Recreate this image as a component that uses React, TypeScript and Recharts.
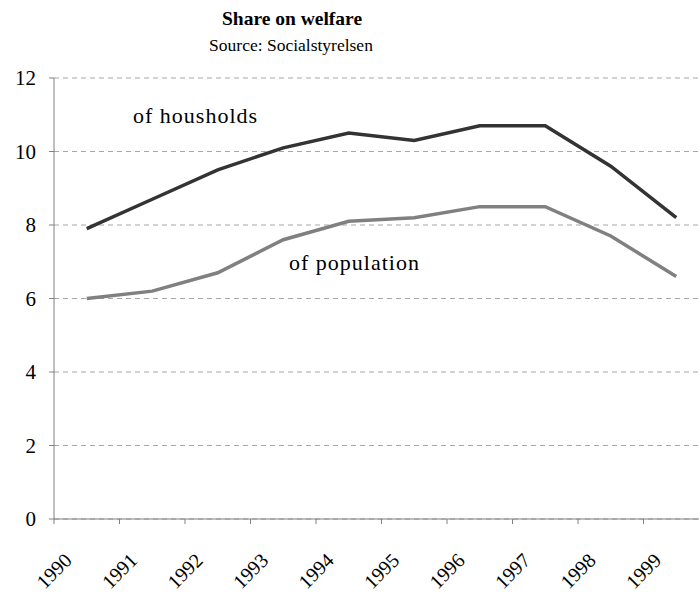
import React from "react";
import { LineChart, Line, XAxis, YAxis, CartesianGrid } from "recharts";

const years = ["1990", "1991", "1992", "1993", "1994", "1995", "1996", "1997", "1998", "1999"];
const households = [7.9, 8.7, 9.5, 10.1, 10.5, 10.3, 10.7, 10.7, 9.6, 8.2];
const population = [6.0, 6.2, 6.7, 7.6, 8.1, 8.2, 8.5, 8.5, 7.7, 6.6];
const yTicks = [0, 2, 4, 6, 8, 10, 12];
const xTicks = years.map((_, i) => i);

const data = years.map((y, i) => ({ x: i + 0.5, year: y, households: households[i], population: population[i] }));

const FONT = "Liberation Serif";

const XTick = (props: any) => {
  const { x, y, payload } = props;
  const label = years[payload.value] ?? "";
  const ax = x + 19;
  const ay = y + 37.6;
  return (
    <text
      x={ax}
      y={ay}
      transform={`rotate(-45 ${ax} ${ay})`}
      textAnchor="end"
      style={{ fontFamily: FONT, fontSize: 20 }}
      fill="#000"
    >
      {label}
    </text>
  );
};

const YTick = (props: any) => {
  const { x, y, payload } = props;
  return (
    <text x={x - 1} y={y + 7} textAnchor="end" style={{ fontFamily: FONT, fontSize: 21 }} fill="#000">
      {payload.value}
    </text>
  );
};

export default function App() {
  return (
    <div style={{ position: "fixed", left: 0, top: 0, width: 699, height: 596, overflow: "hidden", background: "#fff", fontFamily: FONT }}>
      <LineChart width={720} height={596} data={data} margin={{ top: 78, right: 11, bottom: 17, left: 0 }}>
        <CartesianGrid vertical={false} stroke="#a6a6a6" strokeDasharray="5 4" />
        <XAxis
          dataKey="x"
          type="number"
          domain={[0, 10]}
          ticks={xTicks}
          interval={0}
          height={60}
          tickSize={5}
          tickMargin={0}
          stroke="#808080"
          tick={<XTick />}
        />
        <YAxis
          type="number"
          domain={[0, 12]}
          ticks={yTicks}
          interval={0}
          width={54}
          tickSize={5}
          tickMargin={12}
          stroke="#808080"
          tick={<YTick />}
        />
        <Line dataKey="households" stroke="#333333" strokeWidth={3.5} dot={false} isAnimationActive={false} />
        <Line dataKey="population" stroke="#808080" strokeWidth={3.5} dot={false} isAnimationActive={false} />
      </LineChart>
      <svg width={699} height={596} style={{ position: "absolute", left: 0, top: 0, pointerEvents: "none", fontFamily: FONT }}>
        <text x={292} y={25} textAnchor="middle" style={{ fontFamily: FONT, fontSize: 19.5, fontWeight: "bold" }} fill="#000">
          Share on welfare
        </text>
        <text x={291} y={51} textAnchor="middle" style={{ fontFamily: FONT, fontSize: 17.5 }} fill="#000">
          Source: Socialstyrelsen
        </text>
        <text x={133} y={123} style={{ fontFamily: FONT, fontSize: 22, letterSpacing: 1 }} fill="#000">
          of housholds
        </text>
        <text x={289} y={270} style={{ fontFamily: FONT, fontSize: 22, letterSpacing: 1 }} fill="#000">
          of population
        </text>
      </svg>
    </div>
  );
}
